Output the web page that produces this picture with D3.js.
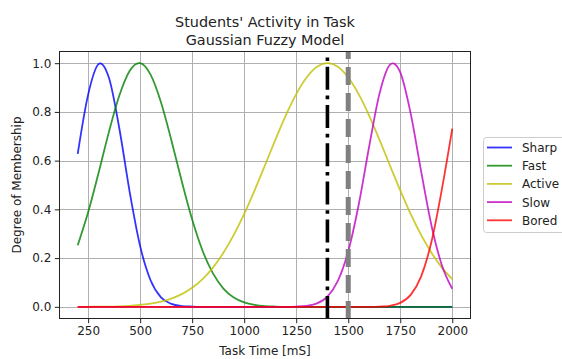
<!DOCTYPE html>
<html><head><meta charset="utf-8">
<script src="https://cdn.jsdelivr.net/npm/d3@7"></script>
<style>
body{margin:0;background:#fff}
svg{display:block;background:#fff}
text{font-family:"DejaVu Sans",sans-serif;fill:#222}
</style>
</head><body>
<svg id="chart" width="562" height="359"></svg>
<script>
// ---- data ----
const timeMs = [200,250,300,350,400,450,500,550,600,650,700,750,800,850,900,950,1000,1050,1100,1150,1200,1250,1300,1350,1400,1450,1500,1550,1600,1650,1700,1750,1800,1850,1900,1950,2000];
const sharp  = [0.628,0.871,0.996,0.940,0.732,0.470,0.249,0.109,0.039,0.012,0.003,0.001,0,0,0,0,0,0,0,0,0,0,0,0,0,0,0,0,0,0,0,0,0,0,0,0,0];
const fast   = [0.253,0.388,0.549,0.718,0.867,0.969,1.000,0.953,0.840,0.684,0.515,0.358,0.230,0.137,0.075,0.038,0.018,0.008,0.003,0.001,0,0,0,0,0,0,0,0,0,0,0,0,0,0,0,0,0];
const active = [0,0,0.001,0.001,0.002,0.004,0.008,0.013,0.021,0.034,0.052,0.078,0.114,0.161,0.222,0.295,0.381,0.478,0.581,0.686,0.786,0.873,0.941,0.985,1.000,0.985,0.941,0.873,0.786,0.686,0.581,0.478,0.381,0.295,0.222,0.161,0.114];
const slow   = [0,0,0,0,0,0,0,0,0,0,0,0,0,0,0,0,0,0,0,0,0,0.001,0.004,0.014,0.042,0.106,0.228,0.418,0.655,0.874,0.993,0.962,0.794,0.558,0.334,0.171,0.074];
const bored  = [0,0,0,0,0,0,0,0,0,0,0,0,0,0,0,0,0,0,0,0,0,0,0,0,0,0,0,0,0,0.001,0.004,0.016,0.049,0.124,0.267,0.482,0.731];
const seriesNames  = ["Sharp","Fast","Active","Slow","Bored"];
const seriesValues = [sharp, fast, active, slow, bored];
const seriesColors = ["#0000ff","#008000","#bfbf00","#bf00bf","#ff0000"];
const xTicks = [250,500,750,1000,1250,1500,1750,2000];
const yTicks = [0,0.2,0.4,0.6,0.8,1.0];
const markerTimes = [1400, 1500];
const titleLines = ["Students' Activity in Task","Gaussian Fuzzy Model"];
const xLabel = "Task Time [mS]";
const yLabel = "Degree of Membership";

// ---- layout ----
const L = 59, R = 471, T = 51, B = 319;
const svg = d3.select("#chart");
const x = d3.scaleLinear().domain([110, 2090]).range([L, R]);
const y = d3.scaleLinear().domain([-0.05, 1.05]).range([B, T]);

// grid
const grid = svg.append("g").attr("stroke","#b0b0b0").attr("stroke-width",1);
grid.selectAll("line.v").data(xTicks).join("line")
  .attr("x1",d=>Math.round(x(d))+0.5).attr("x2",d=>Math.round(x(d))+0.5).attr("y1",T).attr("y2",B);
grid.selectAll("line.h").data(yTicks).join("line")
  .attr("y1",d=>Math.round(y(d))+0.5).attr("y2",d=>Math.round(y(d))+0.5).attr("x1",L).attr("x2",R);

// curves
const line = d3.line().x((d,i)=>x(timeMs[i])).y(d=>y(Math.max(0,d))).curve(d3.curveCatmullRom.alpha(0));
const clip = svg.append("clipPath").attr("id","clp").append("rect").attr("x",L).attr("y",T).attr("width",R-L).attr("height",B-T);
const curves = svg.append("g").attr("clip-path","url(#clp)");
seriesValues.forEach((vals,k)=>{
  curves.append("path").datum(vals).attr("d",line)
    .attr("fill","none").attr("stroke",seriesColors[k]).attr("stroke-opacity",0.8)
    .attr("stroke-width",1.8).attr("stroke-linejoin","round");
});

// vertical markers (drawn bottom -> top)
curves.append("line").attr("x1",x(markerTimes[0])).attr("x2",x(markerTimes[0])).attr("y1",B).attr("y2",T)
  .attr("stroke","#000").attr("stroke-width",3.6).attr("stroke-dasharray","23,5.8,3.6,5.8");
curves.append("line").attr("x1",x(markerTimes[1])).attr("x2",x(markerTimes[1])).attr("y1",B).attr("y2",T)
  .attr("stroke","#808080").attr("stroke-width",5).attr("stroke-dasharray","18,8");

// axes
const xAxis = svg.append("g").attr("transform",`translate(0,${B})`)
  .call(d3.axisBottom(x).tickValues(xTicks).tickSize(4.2).tickPadding(3.5).tickFormat(d3.format("d")));
const yAxis = svg.append("g").attr("transform",`translate(${L},0)`)
  .call(d3.axisLeft(y).tickValues(yTicks).tickSize(4.2).tickPadding(3.5).tickFormat(d3.format(".1f")));
[xAxis,yAxis].forEach(a=>{
  a.select(".domain").remove();
  a.selectAll(".tick line").attr("stroke","#222").attr("stroke-width",1);
  a.selectAll(".tick text").attr("font-size",12).attr("font-family","DejaVu Sans").attr("fill","#222");
});
svg.append("rect").attr("x",L+0.5).attr("y",T+0.5).attr("width",R-L-1).attr("height",B-T-1)
  .attr("fill","none").attr("stroke","#222").attr("stroke-width",1);

// labels
svg.append("text").attr("x",(L+R)/2).attr("y",355).attr("text-anchor","middle").attr("font-size",12).text(xLabel);
svg.append("text").attr("transform",`translate(21,${(T+B)/2}) rotate(-90)`).attr("text-anchor","middle").attr("font-size",12).text(yLabel);
svg.selectAll("text.title").data(titleLines).join("text").attr("class","title")
  .attr("x",(L+R)/2).attr("y",(d,i)=>27+i*18).attr("text-anchor","middle").attr("font-size",14.4).text(d=>d);

// legend
const lg = svg.append("g");
lg.append("rect").attr("x",483.5).attr("y",137.5).attr("width",84).attr("height",95).attr("rx",3)
  .attr("fill","#fff").attr("fill-opacity",0.8).attr("stroke","#cccccc").attr("stroke-width",1);
seriesNames.forEach((n,k)=>{
  const yy = 147.5 + k*18.2;
  lg.append("line").attr("x1",487).attr("x2",512).attr("y1",yy).attr("y2",yy)
    .attr("stroke",seriesColors[k]).attr("stroke-opacity",0.8).attr("stroke-width",1.8);
  lg.append("text").attr("x",522).attr("y",yy+4.4).attr("font-size",12).text(n);
});
</script>
</body></html>
